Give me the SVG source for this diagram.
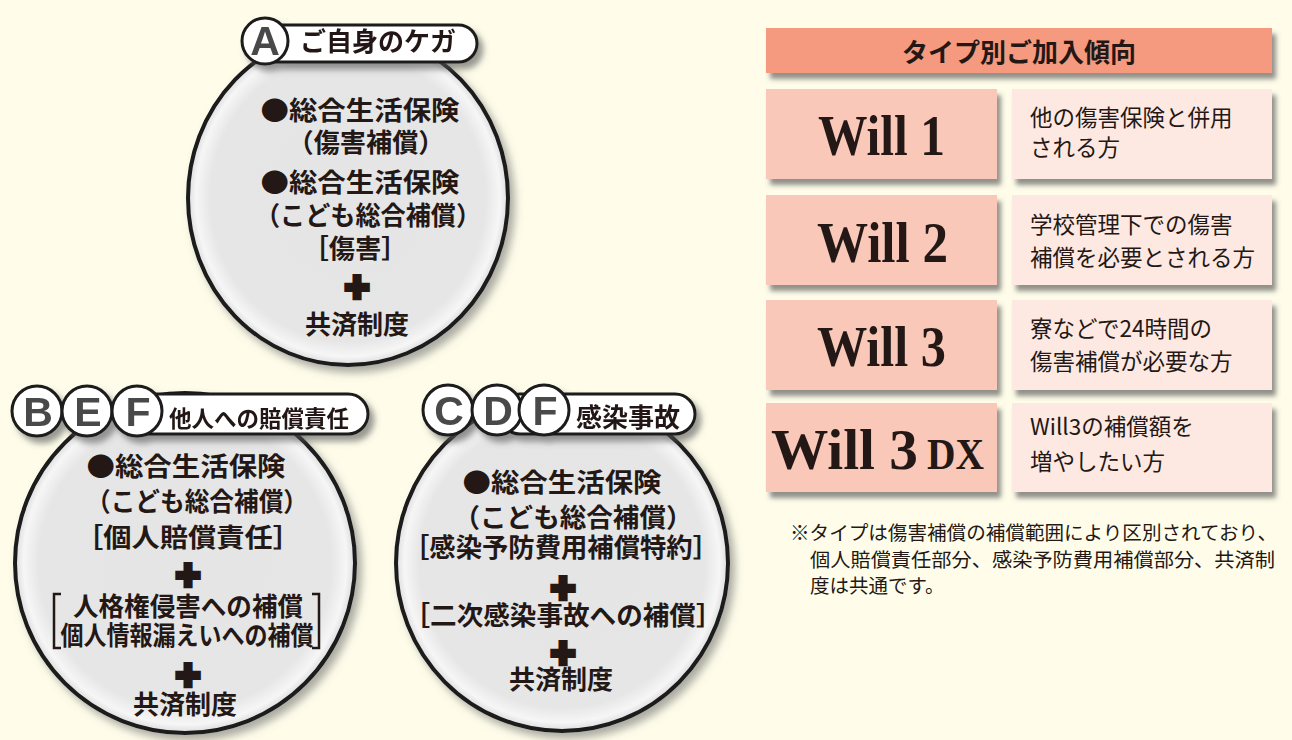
<svg xmlns="http://www.w3.org/2000/svg" width="1292" height="740" viewBox="0 0 1292 740">
<defs>
<radialGradient id="disc" cx="50%" cy="50%" r="50%">
<stop offset="0" stop-color="#e5e5e5"/>
<stop offset="0.86" stop-color="#e6e6e6"/>
<stop offset="0.95" stop-color="#f6f6f6"/>
<stop offset="1" stop-color="#dcdcdc"/>
</radialGradient>
<filter id="sh" x="-20%" y="-20%" width="150%" height="150%">
<feDropShadow dx="5" dy="6" stdDeviation="4" flood-color="#666" flood-opacity="0.55"/>
</filter>
<filter id="lsh" x="-20%" y="-40%" width="150%" height="200%">
<feDropShadow dx="5" dy="6" stdDeviation="3" flood-color="#555" flood-opacity="0.6"/>
</filter>
<filter id="bs" x="-10%" y="-20%" width="130%" height="150%">
<feDropShadow dx="4" dy="6" stdDeviation="2.5" flood-color="#555" flood-opacity="0.65"/>
</filter>
<style>
.disc{fill:url(#disc);stroke:#1a1a1a;stroke-width:4}
.pill{fill:#fff;stroke:#1a1a1a;stroke-width:3}
.badge{fill:#fff;stroke:#1a1a1a;stroke-width:3}
.letter{font-family:"Liberation Sans",Arial,sans-serif;font-weight:bold;font-size:41px;fill:#4a4a4a;text-anchor:middle}
.lbl{font-family:"Noto Sans CJK JP",sans-serif;font-weight:bold;fill:#231815}
.ct{font-family:"Noto Sans CJK JP",sans-serif;font-weight:bold;font-size:26px;fill:#231815;text-anchor:middle}
.plus{font-family:"Liberation Sans",Arial,sans-serif;font-weight:bold;font-size:42px;fill:#231815;stroke:#231815;stroke-width:4.5;stroke-linejoin:miter;text-anchor:middle}
.brk{fill:none;stroke:#231815;stroke-width:2.5}
.hdr{fill:#f5997f}
.lb{fill:#f9c8b8}
.rb{fill:#fde9e2}
.will{font-family:"Liberation Serif","Times New Roman",serif;font-weight:bold;font-size:58px;fill:#231815}
.rt{font-family:"Noto Sans CJK JP",sans-serif;font-size:22.5px;fill:#231815}
.fn{font-family:"Noto Sans CJK JP",sans-serif;font-size:19.5px;fill:#231815}
</style>
</defs>
<rect width="1292" height="740" fill="#fffdea"/>

<g id="connectors"/>

<g id="node-A">
<ellipse cx="348" cy="198" rx="160" ry="167" class="disc" filter="url(#sh)"/>
<text class="ct" x="360" y="120" font-size="27" textLength="199" lengthAdjust="spacingAndGlyphs">●総合生活保険</text>
<text class="ct" x="366" y="152" textLength="157" lengthAdjust="spacingAndGlyphs">（傷害補償）</text>
<text class="ct" x="360" y="192" font-size="27" textLength="199" lengthAdjust="spacingAndGlyphs">●総合生活保険</text>
<text class="ct" x="368" y="225" textLength="226" lengthAdjust="spacingAndGlyphs">（こども総合補償）</text>
<text class="ct" x="355" y="258" textLength="105" lengthAdjust="spacingAndGlyphs">［傷害］</text>
<text class="plus" x="357" y="301">+</text>
<text class="ct" x="357" y="334" font-size="28">共済制度</text>
<g filter="url(#lsh)">
<rect x="255" y="25" width="222" height="37" rx="18.5" class="pill"/>
<circle cx="265" cy="41" r="23" class="badge"/>
<text class="letter" x="265" y="55">A</text>
<text class="lbl" x="300" y="51" font-size="26">ご自身のケガ</text>
</g>
</g>

<g id="node-BEF">
<circle cx="185" cy="563" r="170" class="disc" filter="url(#sh)"/>
<text class="ct" x="186" y="476" font-size="27" textLength="199" lengthAdjust="spacingAndGlyphs">●総合生活保険</text>
<text class="ct" x="197" y="511" textLength="222" lengthAdjust="spacingAndGlyphs">（こども総合補償）</text>
<text class="ct" x="188" y="547" textLength="226" lengthAdjust="spacingAndGlyphs">［個人賠償責任］</text>
<text class="plus" x="188" y="589">+</text>
<path class="brk" d="M61 594 H54 V648 H61"/>
<path class="brk" d="M312 594 H319 V648 H312"/>
<text class="ct" x="188" y="616" textLength="230" lengthAdjust="spacingAndGlyphs">人格権侵害への補償</text>
<text class="ct" x="187" y="645" font-size="24" textLength="253" lengthAdjust="spacingAndGlyphs">個人情報漏えいへの補償</text>
<text class="plus" x="188" y="689">+</text>
<text class="ct" x="185" y="714" font-size="28">共済制度</text>
<g filter="url(#lsh)">
<rect x="120" y="394" width="248" height="40" rx="20" class="pill"/>
<circle cx="37" cy="411" r="25" class="badge"/>
<text class="letter" x="38" y="426">B</text>
<circle cx="87" cy="411" r="25" class="badge"/>
<text class="letter" x="88" y="426">E</text>
<circle cx="137" cy="411" r="25" class="badge"/>
<text class="letter" x="138" y="426">F</text>
<text class="lbl" x="169" y="427" font-size="22.5">他人への賠償責任</text>
</g>
</g>

<g id="node-CDF">
<ellipse cx="562" cy="563" rx="166" ry="168" class="disc" filter="url(#sh)"/>
<text class="ct" x="562" y="492" font-size="27" textLength="199" lengthAdjust="spacingAndGlyphs">●総合生活保険</text>
<text class="ct" x="573" y="527" textLength="239" lengthAdjust="spacingAndGlyphs">（こども総合補償）</text>
<text class="ct" x="561" y="557" textLength="316" lengthAdjust="spacingAndGlyphs">［感染予防費用補償特約］</text>
<text class="plus" x="563" y="602">+</text>
<text class="ct" x="563" y="625" textLength="319" lengthAdjust="spacingAndGlyphs">［二次感染事故への補償］</text>
<text class="plus" x="563" y="667">+</text>
<text class="ct" x="561" y="689" font-size="28">共済制度</text>
<g filter="url(#lsh)">
<rect x="500" y="394" width="195" height="40" rx="20" class="pill"/>
<circle cx="448" cy="410" r="25" class="badge"/>
<text class="letter" x="449" y="425">C</text>
<circle cx="497" cy="410" r="25" class="badge"/>
<text class="letter" x="498" y="425">D</text>
<circle cx="544" cy="410" r="25" class="badge"/>
<text class="letter" x="545" y="425">F</text>
<text class="lbl" x="576" y="427" font-size="26">感染事故</text>
</g>
</g>

<g id="table-header">
<rect x="766" y="28" width="506" height="45" class="hdr" filter="url(#bs)"/>
<text class="lbl" x="1019" y="62" font-size="26" text-anchor="middle">タイプ別ご加入傾向</text>
</g>

<g id="row-will1">
<rect x="766" y="89" width="231" height="90" class="lb" filter="url(#bs)"/>
<rect x="1012" y="89" width="260" height="90" class="rb" filter="url(#bs)"/>
<text class="will" x="818" y="155" textLength="127" lengthAdjust="spacingAndGlyphs">Will 1</text>
<text class="rt" x="1030" y="126">他の傷害保険と併用</text>
<text class="rt" x="1030" y="156">される方</text>
</g>

<g id="row-will2">
<rect x="766" y="195" width="231" height="90" class="lb" filter="url(#bs)"/>
<rect x="1012" y="195" width="260" height="90" class="rb" filter="url(#bs)"/>
<text class="will" x="817" y="262" textLength="131" lengthAdjust="spacingAndGlyphs">Will 2</text>
<text class="rt" x="1030" y="233">学校管理下での傷害</text>
<text class="rt" x="1030" y="266">補償を必要とされる方</text>
</g>

<g id="row-will3">
<rect x="766" y="300" width="231" height="90" class="lb" filter="url(#bs)"/>
<rect x="1012" y="300" width="260" height="90" class="rb" filter="url(#bs)"/>
<text class="will" x="817" y="366" textLength="129" lengthAdjust="spacingAndGlyphs">Will 3</text>
<text class="rt" x="1030" y="337">寮などで24時間の</text>
<text class="rt" x="1030" y="370">傷害補償が必要な方</text>
</g>

<g id="row-will3dx">
<rect x="766" y="403" width="231" height="89" class="lb" filter="url(#bs)"/>
<rect x="1012" y="403" width="260" height="89" class="rb" filter="url(#bs)"/>
<text class="will" x="771" y="469"><tspan textLength="147" lengthAdjust="spacingAndGlyphs">Will 3</tspan><tspan x="927" font-size="44" textLength="57" lengthAdjust="spacingAndGlyphs">DX</tspan></text>
<text class="rt" x="1030" y="435">Will3の補償額を</text>
<text class="rt" x="1030" y="470">増やしたい方</text>
</g>

<g id="footnote">
<text class="fn" x="790" y="540" textLength="487" lengthAdjust="spacingAndGlyphs">※タイプは傷害補償の補償範囲により区別されており、</text>
<text class="fn" x="810" y="567" textLength="465" lengthAdjust="spacingAndGlyphs">個人賠償責任部分、感染予防費用補償部分、共済制</text>
<text class="fn" x="810" y="593">度は共通です。</text>
</g>
</svg>
